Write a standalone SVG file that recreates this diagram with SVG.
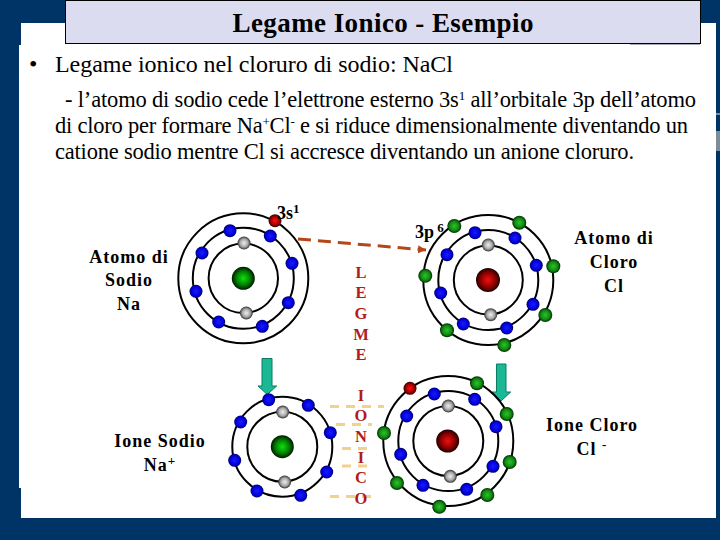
<svg xmlns="http://www.w3.org/2000/svg" width="720" height="540" viewBox="0 0 720 540">
<style>
text{font-family:"Liberation Serif","Times New Roman",serif;fill:#000}
.body{font-size:22.500px}
.lab{font-size:18px;font-weight:bold;text-anchor:middle;letter-spacing:1px}
.leg{font-size:16.500px;font-weight:bold;fill:#b01c1c;text-anchor:middle}
.orb{fill:none;stroke:#000;stroke-width:2}
.dash{fill:none;stroke:#f3d08c;stroke-width:3;stroke-dasharray:9 7}
</style>
<defs>
<radialGradient id="gB"><stop offset="0" stop-color="#1a1aff"/><stop offset=".75" stop-color="#0000d8"/><stop offset="1" stop-color="#000060"/></radialGradient>
<radialGradient id="gG"><stop offset="0" stop-color="#30c030"/><stop offset=".65" stop-color="#108a10"/><stop offset="1" stop-color="#003000"/></radialGradient>
<radialGradient id="gY"><stop offset="0" stop-color="#eee"/><stop offset=".6" stop-color="#aaa"/><stop offset="1" stop-color="#333"/></radialGradient>
<radialGradient id="gR"><stop offset="0" stop-color="#ff1010"/><stop offset=".6" stop-color="#b00000"/><stop offset="1" stop-color="#300000"/></radialGradient>
<radialGradient id="nG"><stop offset="0" stop-color="#10e010"/><stop offset=".6" stop-color="#008000"/><stop offset="1" stop-color="#001800"/></radialGradient>
<radialGradient id="nR"><stop offset="0" stop-color="#f01010"/><stop offset=".6" stop-color="#900000"/><stop offset="1" stop-color="#200000"/></radialGradient>
<marker id="ah" markerUnits="userSpaceOnUse" markerWidth="10" markerHeight="10" refX="8" refY="4" orient="auto"><path d="M0 0L8 4L0 8Z" fill="#b5461a"/></marker>
<circle id="b" r="6.500" fill="url(#gB)"/>
<circle id="g" r="7" fill="url(#gG)"/>
<circle id="y" r="6.500" fill="url(#gY)"/>
<circle id="r" r="6.500" fill="url(#gR)"/>
</defs>
<rect width="720" height="540" fill="#003366"/>
<path d="M21 23H716V518H21V488H19V45H21Z" fill="#fff"/>
<path d="M716 113h4v2h-4zM716 131h4v20h-4z" fill="#7d8d96"/>
<rect x="630" y="43" width="70" height="2" fill="#a9a9b5"/>
<rect id="titlebox" x="65.500" y="0.500" width="635" height="43" fill="#dcdcf0" stroke="#000"/>
<text x="383" y="32" font-size="27" font-weight="bold" text-anchor="middle" textLength="301">Legame Ionico - Esempio</text>
<text x="29" y="72" font-size="24">•</text>
<text x="55" y="72" font-size="24" textLength="398">Legame ionico nel cloruro di sodio: NaCl</text>
<text class="body" x="65" y="107" textLength="631">- l’atomo di sodio cede l’elettrone esterno 3s<tspan dy="-7" font-size="13">1</tspan><tspan dy="7"> all’orbitale 3p dell’atomo</tspan></text>
<text class="body" x="55" y="133" textLength="633">di cloro per formare Na<tspan dy="-7" font-size="13">+</tspan><tspan dy="7">Cl</tspan><tspan dy="-7" font-size="13">-</tspan><tspan dy="7"> e si riduce dimensionalmente diventando un</tspan></text>
<text class="body" x="55" y="159" textLength="579">catione sodio mentre Cl si accresce diventando un anione cloruro.</text>

<g id="connectors">
<path d="M298 239L426 250" fill="none" stroke="#b5461a" stroke-width="3" stroke-dasharray="13 7" marker-end="url(#ah)"/>
<path class="dash" d="M330 406.500H384"/>
<path class="dash" d="M336 424.500H372"/>
<path class="dash" d="M342 448.500H368"/>
<path class="dash" d="M342 466H368"/>
<path class="dash" d="M330 496.500H378"/>
<path d="M262 358.500H272V386H276.700L267.300 394.500L258 386H262Z" fill="#1ab894" stroke="#0d7a62"/>
<path d="M496.500 364H506V392H510.700L501 401L492 392H496.500Z" fill="#1ab894" stroke="#0d7a62"/>
</g>

<g id="atom-sodio">
<circle class="orb" cx="243.300" cy="278.300" r="34.700"/><circle class="orb" cx="243.300" cy="278.300" r="50.500"/><circle class="orb" cx="243.300" cy="278.300" r="65"/>
<circle cx="243.300" cy="278.300" r="11.500" fill="url(#nG)"/>
<use href="#r" x="275" y="220.700"/>
<use href="#b" x="230" y="230.700"/><use href="#b" x="270.300" y="236"/><use href="#b" x="202" y="253"/><use href="#b" x="292" y="263.300"/><use href="#b" x="196" y="291.300"/><use href="#b" x="288.300" y="302.700"/><use href="#b" x="218.700" y="322"/><use href="#b" x="262.300" y="326.300"/>
<use href="#y" x="244" y="243"/><use href="#y" x="246.300" y="313"/>
</g>
<g id="atom-cloro">
<circle class="orb" cx="488.300" cy="280" r="34.500"/><circle class="orb" cx="488.300" cy="280" r="50"/><circle class="orb" cx="488.300" cy="280" r="65"/>
<circle cx="488" cy="280" r="12" fill="url(#nR)"/>
<use href="#g" x="454.300" y="226"/><use href="#g" x="519.300" y="222.700"/><use href="#g" x="553.300" y="266.300"/><use href="#g" x="425.300" y="275.700"/><use href="#g" x="545.300" y="315"/><use href="#g" x="447" y="330.300"/><use href="#g" x="504.300" y="345"/>
<use href="#b" x="475" y="232.700"/><use href="#b" x="515" y="238"/><use href="#b" x="447" y="254.700"/><use href="#b" x="536.300" y="265.300"/><use href="#b" x="440.700" y="293"/><use href="#b" x="533" y="304.300"/><use href="#b" x="463.300" y="324"/><use href="#b" x="506.700" y="328"/>
<use href="#y" x="488.300" y="245"/><use href="#y" x="490.700" y="314.700"/>
</g>
<g id="ione-sodio">
<circle class="orb" cx="282.300" cy="446.700" r="35"/><circle class="orb" cx="282.300" cy="446.700" r="50"/>
<circle cx="282.300" cy="446.700" r="11.500" fill="url(#nG)"/>
<use href="#b" x="268.700" y="399.700"/><use href="#b" x="308.300" y="405.300"/><use href="#b" x="240.700" y="422"/><use href="#b" x="330.300" y="432.700"/><use href="#b" x="234.700" y="460.300"/><use href="#b" x="326.700" y="472"/><use href="#b" x="257" y="491"/><use href="#b" x="300.700" y="495.300"/>
<use href="#y" x="282.700" y="412"/><use href="#y" x="284.700" y="482"/>
</g>
<g id="ione-cloro">
<circle class="orb" cx="448.300" cy="441" r="35"/><circle class="orb" cx="448.300" cy="441" r="50"/><circle class="orb" cx="448.300" cy="441" r="65"/>
<circle cx="447.700" cy="441" r="11.500" fill="url(#nR)"/>
<use href="#r" x="410" y="388.300"/>
<use href="#g" x="477" y="383.300"/><use href="#g" x="506.700" y="414"/><use href="#g" x="384" y="433"/><use href="#g" x="509.700" y="462"/><use href="#g" x="397" y="483"/><use href="#g" x="487.300" y="495"/><use href="#g" x="439.300" y="506.700"/>
<use href="#b" x="434.300" y="394"/><use href="#b" x="474.700" y="399.300"/><use href="#b" x="406.700" y="416"/><use href="#b" x="496" y="426.700"/><use href="#b" x="400.700" y="454.300"/><use href="#b" x="493" y="466.300"/><use href="#b" x="423" y="485.300"/><use href="#b" x="466.700" y="489.300"/>
<use href="#y" x="448.300" y="406"/><use href="#y" x="450.300" y="476.300"/>
</g>

<text x="277" y="219" font-size="18" font-weight="bold">3s<tspan dy="-6" font-size="13">1</tspan></text>
<text x="415" y="238" font-size="18" font-weight="bold">3p<tspan dy="-6" font-size="13"> 6</tspan></text>

<g id="label-sodio"><text class="lab" x="129" y="263">Atomo di</text><text class="lab" x="129" y="286">Sodio</text><text class="lab" x="129" y="310">Na</text></g>
<g id="label-cloro"><text class="lab" x="614" y="244">Atomo di</text><text class="lab" x="614" y="268">Cloro</text><text class="lab" x="614" y="292">Cl</text></g>
<g id="label-ione-sodio"><text class="lab" x="160" y="447">Ione Sodio</text><text class="lab" x="160" y="471">Na<tspan dy="-6" font-size="13">+</tspan></text></g>
<g id="label-ione-cloro"><text class="lab" x="592" y="431">Ione Cloro</text><text class="lab" x="592" y="455">Cl <tspan dy="-6" font-size="13">-</tspan></text></g>
<g id="legame">
<text class="leg" x="361" y="278">L</text><text class="leg" x="361" y="298">E</text><text class="leg" x="361" y="319">G</text><text class="leg" x="361" y="340">M</text><text class="leg" x="361" y="360">E</text>
<text class="leg" x="361" y="401">I</text><text class="leg" x="361" y="421">O</text><text class="leg" x="361" y="442">N</text><text class="leg" x="361" y="463">I</text><text class="leg" x="361" y="483">C</text><text class="leg" x="361" y="504">O</text>
</g>
</svg>
